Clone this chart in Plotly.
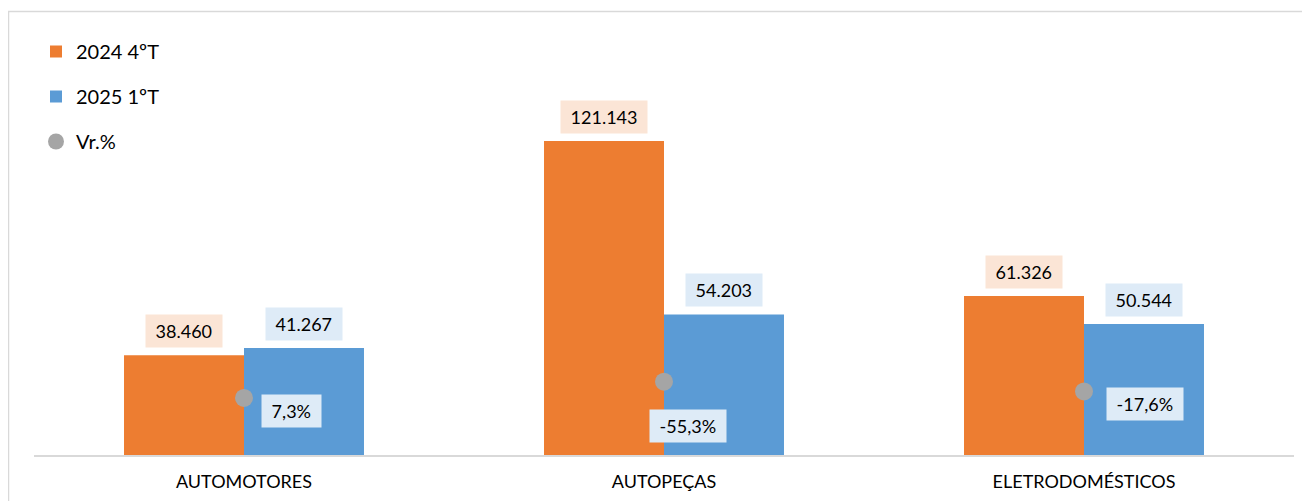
import plotly.graph_objects as go

categories = ["AUTOMOTORES", "AUTOPEÇAS", "ELETRODOMÉSTICOS"]
q4_2024 = [38460, 121143, 61326]
q1_2025 = [41267, 54203, 50544]
vr_pct = [7.3, -55.3, -17.6]

ORANGE = "#ED7D31"
BLUE = "#5B9BD5"
GREY = "#A5A5A5"
FONT = "Lato, 'Open Sans', sans-serif"

W, H = 1310, 501
OFF = 8  # page body margin in the browser
# plot area wanted on screen: x 34..1294, y 20..455
ML, MT = 34 - OFF, 20 - OFF
MR = W - (1294 - OFF)
MB = H - (455 - OFF)
PW, PH = W - ML - MR, H - MT - MB


def thousands(v):
    return f"{v:,}".replace(",", ".")


def pct(v):
    return f"{v:.1f}".replace(".", ",") + "%"


def px_x(sx):
    return (sx - OFF - ML) / PW


def px_y(sy):
    return (MT + PH - (sy - OFF)) / PH


fig = go.Figure()
fig.add_trace(go.Bar(x=categories, y=q4_2024, name="2024 4ºT", marker_color=ORANGE,
                     legendgroup="a"))
fig.add_trace(go.Bar(x=categories, y=q1_2025, name="2025 1ºT", marker_color=BLUE,
                     legendgroup="b"))
fig.add_trace(go.Scatter(x=categories, y=vr_pct, name="Vr.%", mode="markers", yaxis="y2",
                         marker=dict(color=GREY, size=18), legendgroup="c"))

# value labels above the bars
for vals, shift, bg in [(q4_2024, -60, "#FBE5D6"), (q1_2025, 60, "#DEEBF7")]:
    for c, v in zip(categories, vals):
        fig.add_annotation(x=c, y=v, xref="x", yref="y", text="\u00a0" + thousands(v) + "\u00a0",
                           showarrow=False, xshift=shift, yanchor="bottom", yshift=7,
                           bgcolor=bg, borderpad=5, font=dict(size=18, color="#000"))

# variation labels, placed next to the dots
offsets = [(47, -13), (24, -44), (61, -13)]
for c, v, (dx, dy) in zip(categories, vr_pct, offsets):
    fig.add_annotation(x=c, y=v, xref="x", yref="y2", text="\u00a0" + pct(v) + "\u00a0",
                       showarrow=False, xshift=dx, yshift=dy,
                       bgcolor="#DEEBF7", borderpad=5, font=dict(size=18, color="#000"))

# chart frame
fig.add_shape(type="rect", xref="paper", yref="paper",
              x0=px_x(8.5), x1=px_x(W + 20),
              y0=px_y(H + 20), y1=px_y(11.5),
              line=dict(color="#D9D9D9", width=1.5), layer="below")

fig.update_layout(
    width=W, height=H,
    margin=dict(l=ML, r=MR, t=MT, b=MB),
    plot_bgcolor="white", paper_bgcolor="white",
    font=dict(family=FONT, size=18, color="#000"),
    barmode="group", bargap=0.4286, bargroupgap=0,
    showlegend=True,
    legend=dict(x=px_x(36), y=px_y(32), xanchor="left", yanchor="top",
                traceorder="grouped", tracegroupgap=16, itemwidth=30,
                font=dict(size=20, color="#000"), bgcolor="rgba(0,0,0,0)"),
    xaxis=dict(showline=True, linecolor="#D9D9D9", linewidth=2, showgrid=False,
               ticks="", tickfont=dict(size=18), ticklabelstandoff=9, fixedrange=True),
    yaxis=dict(visible=False, range=[0, 167800], showgrid=False, fixedrange=True),
    yaxis2=dict(visible=False, overlaying="y", range=[226.9, -1446.2], showgrid=False,
                fixedrange=True),
)
fig.update_traces(marker_line_width=0, selector=dict(type="bar"))

fig.write_html("out.html")
